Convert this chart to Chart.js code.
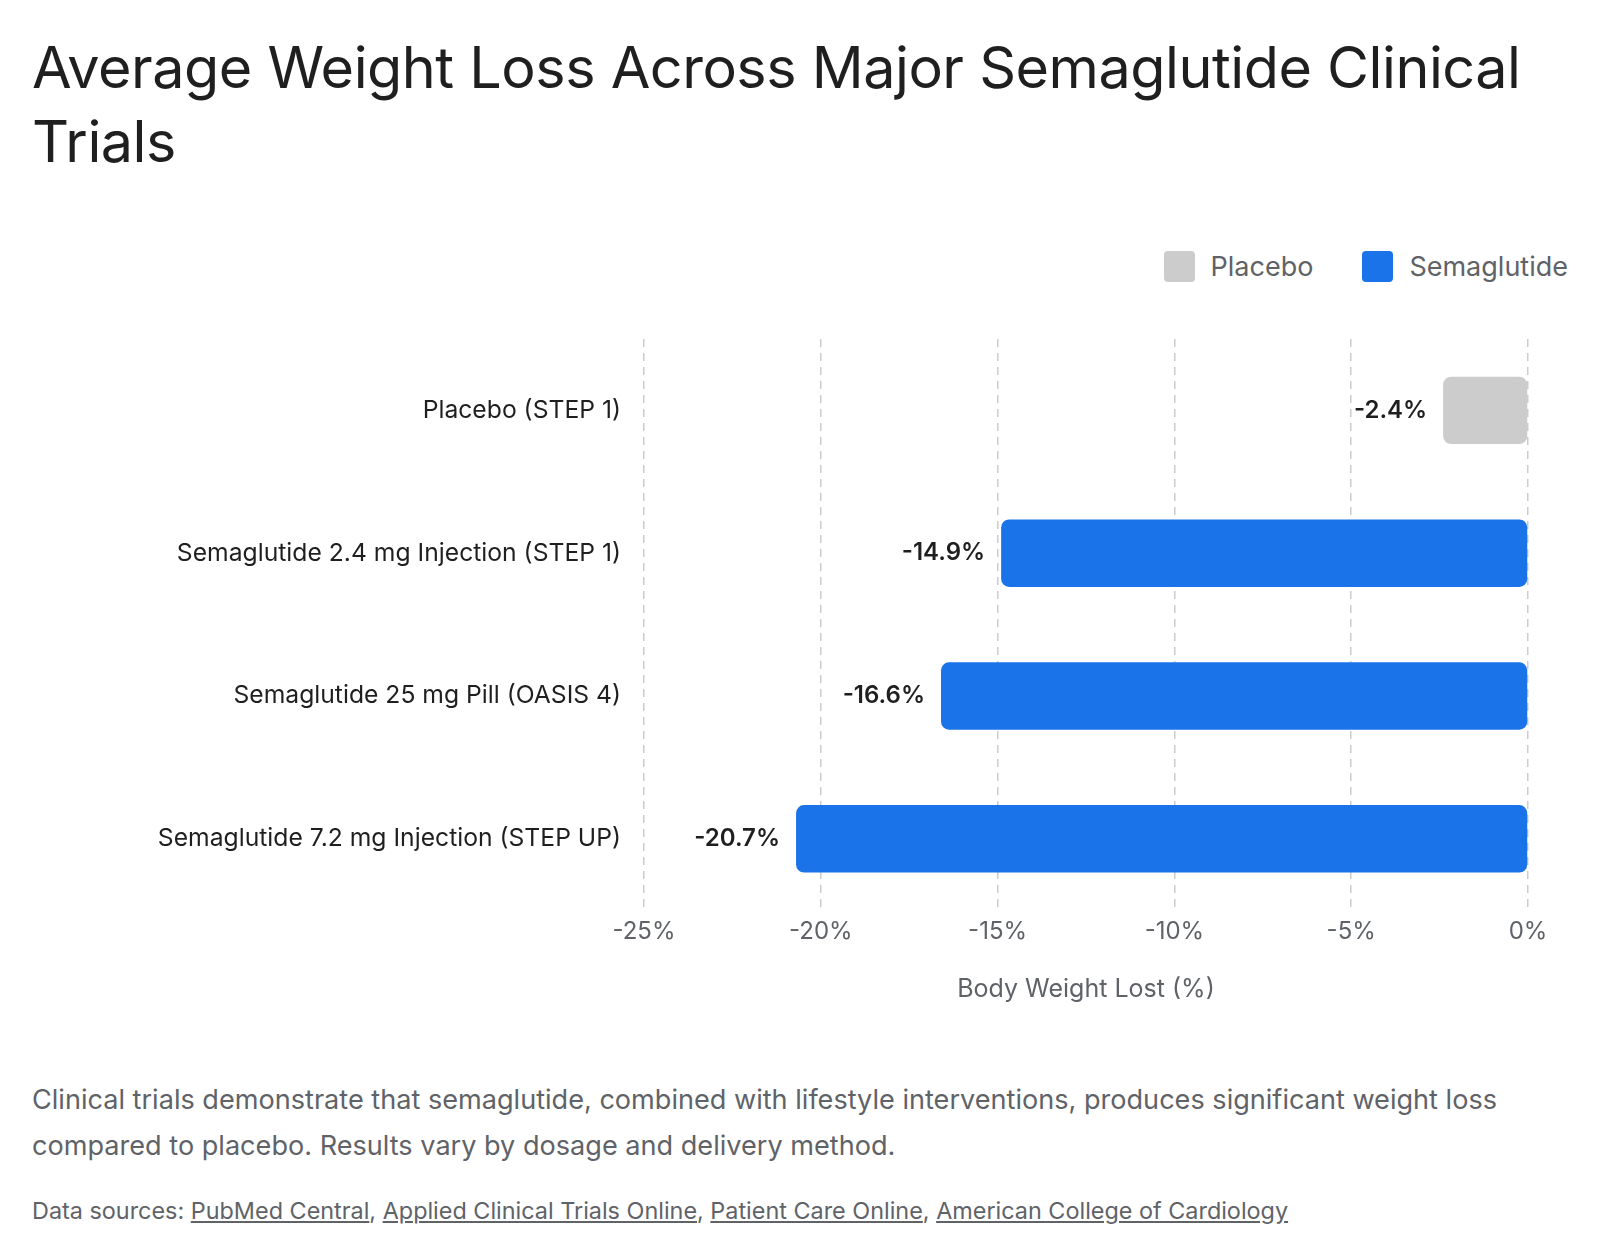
<!DOCTYPE html>
<html>
<head>
<meta charset="utf-8">
<script src="https://cdn.jsdelivr.net/npm/chart.js@4.4.1/dist/chart.umd.min.js"></script>
<style>
  html, body { margin: 0; padding: 0; background: #fff; overflow: hidden; }
  body { width: 1600px; height: 1258px; position: relative; font-family: Inter, Roboto, sans-serif; }
  #title { position: absolute; left: 32px; top: 30px; width: 1536px; margin: 0; font-size: 57.5px; font-weight: 400; line-height: 74px; color: #1f1f1f; letter-spacing: -0.5px; }
  #legend { position: absolute; right: 32px; top: 251px; display: flex; gap: 49px; font-size: 27px; color: #5f6368; }
  .item { display: flex; align-items: center; gap: 16px; height: 31px; }
  .swatch { width: 31px; height: 31px; border-radius: 4px; }
  #wrap { position: absolute; left: 0; top: 300px; width: 1600px; height: 712px; }
  #desc { position: absolute; left: 32px; top: 1077px; width: 1536px; margin: 0; font-size: 27.1px; line-height: 46px; color: #5f6368; }
  #src { position: absolute; left: 32px; top: 1196px; margin: 0; font-size: 23.4px; color: #5f6368; }
  #src a { color: #5f6368; text-decoration: underline; }
</style>
</head>
<body>
<h1 id="title">Average Weight Loss Across Major Semaglutide Clinical Trials</h1>
<div id="legend"></div>
<div id="wrap"><canvas id="chart"></canvas></div>
<p id="desc">Clinical trials demonstrate that semaglutide, combined with lifestyle interventions, produces significant weight loss compared to placebo. Results vary by dosage and delivery method.</p>
<p id="src">Data sources: <a href="#">PubMed Central</a>, <a href="#">Applied Clinical Trials Online</a>, <a href="#">Patient Care Online</a>, <a href="#">American College of Cardiology</a></p>

<script>
// data ------------------------------------------------------------
const trials = [
  'Placebo (STEP 1)',
  'Semaglutide 2.4 mg Injection (STEP 1)',
  'Semaglutide 25 mg Pill (OASIS 4)',
  'Semaglutide 7.2 mg Injection (STEP UP)'
]
const placeboLoss = [-2.4, null, null, null]
const semaLoss = [null, -14.9, -16.6, -20.7]
const seriesNames = ['Placebo', 'Semaglutide']
const seriesColors = ['#cccccc', '#1a73e8']
const xTicks = [-25, -20, -15, -10, -5, 0]

// legend (html) ---------------------------------------------------
const legend = document.querySelector('#legend')
seriesNames.forEach((name, i) => {
  const it = document.createElement('div')
  it.className = 'item'
  it.innerHTML = `<span class="swatch" style="background:${seriesColors[i]}"></span><span>${name}</span>`
  legend.appendChild(it)
})

// value labels to the left of each bar
const valueLabels = {
  id: 'valueLabels',
  afterDatasetsDraw(chart) {
    const ctx = chart.ctx
    ctx.save()
    ctx.font = '600 24px Inter, sans-serif'
    ctx.fillStyle = '#1f1f1f'
    ctx.textAlign = 'right'
    ctx.textBaseline = 'middle'
    chart.data.datasets.forEach((ds, di) => {
      const meta = chart.getDatasetMeta(di)
      meta.data.forEach((bar, i) => {
        const v = ds.data[i]
        if (v == null) return
        ctx.fillText(v.toFixed(1) + '%', bar.x - 16, bar.y)
      })
    })
    ctx.restore()
  }
}

Chart.defaults.font.family = 'Inter, sans-serif'

new Chart(document.querySelector('#chart'), {
  type: 'bar',
  data: {
    labels: trials,
    datasets: [
      { label: seriesNames[0], data: placeboLoss, backgroundColor: seriesColors[0] },
      { label: seriesNames[1], data: semaLoss, backgroundColor: seriesColors[1] }
    ]
  },
  options: {
    indexAxis: 'y',
    responsive: true,
    maintainAspectRatio: false,
    animation: false,
    layout: { padding: { top: 39, right: 72, left: 0, bottom: 0 } },
    datasets: {
      bar: { skipNull: true, categoryPercentage: 0.8, barPercentage: 0.59, borderRadius: 8, borderSkipped: false }
    },
    scales: {
      x: {
        min: -25,
        max: 0,
        afterBuildTicks(scale) { scale.ticks = xTicks.map(v => ({ value: v })) },
        grid: { color: '#cccccc', lineWidth: 1.5, drawTicks: false },
        border: { display: false, dash: [8, 6] },
        ticks: { padding: 7, color: '#5f6368', font: { size: 24 }, callback: v => v + '%' },
        title: { display: true, text: 'Body Weight Lost (%)', color: '#5f6368', font: { size: 25 }, padding: { top: 21, bottom: 8 } }
      },
      y: {
        afterFit(scale) { scale.width = 644 },
        grid: { display: false },
        border: { display: false },
        ticks: { padding: 15, color: '#1f1f1f', font: { size: 24.7 } }
      }
    },
    plugins: {
      legend: { display: false },
      tooltip: { enabled: false }
    }
  },
  plugins: [valueLabels]
})
</script>
</body>
</html>
